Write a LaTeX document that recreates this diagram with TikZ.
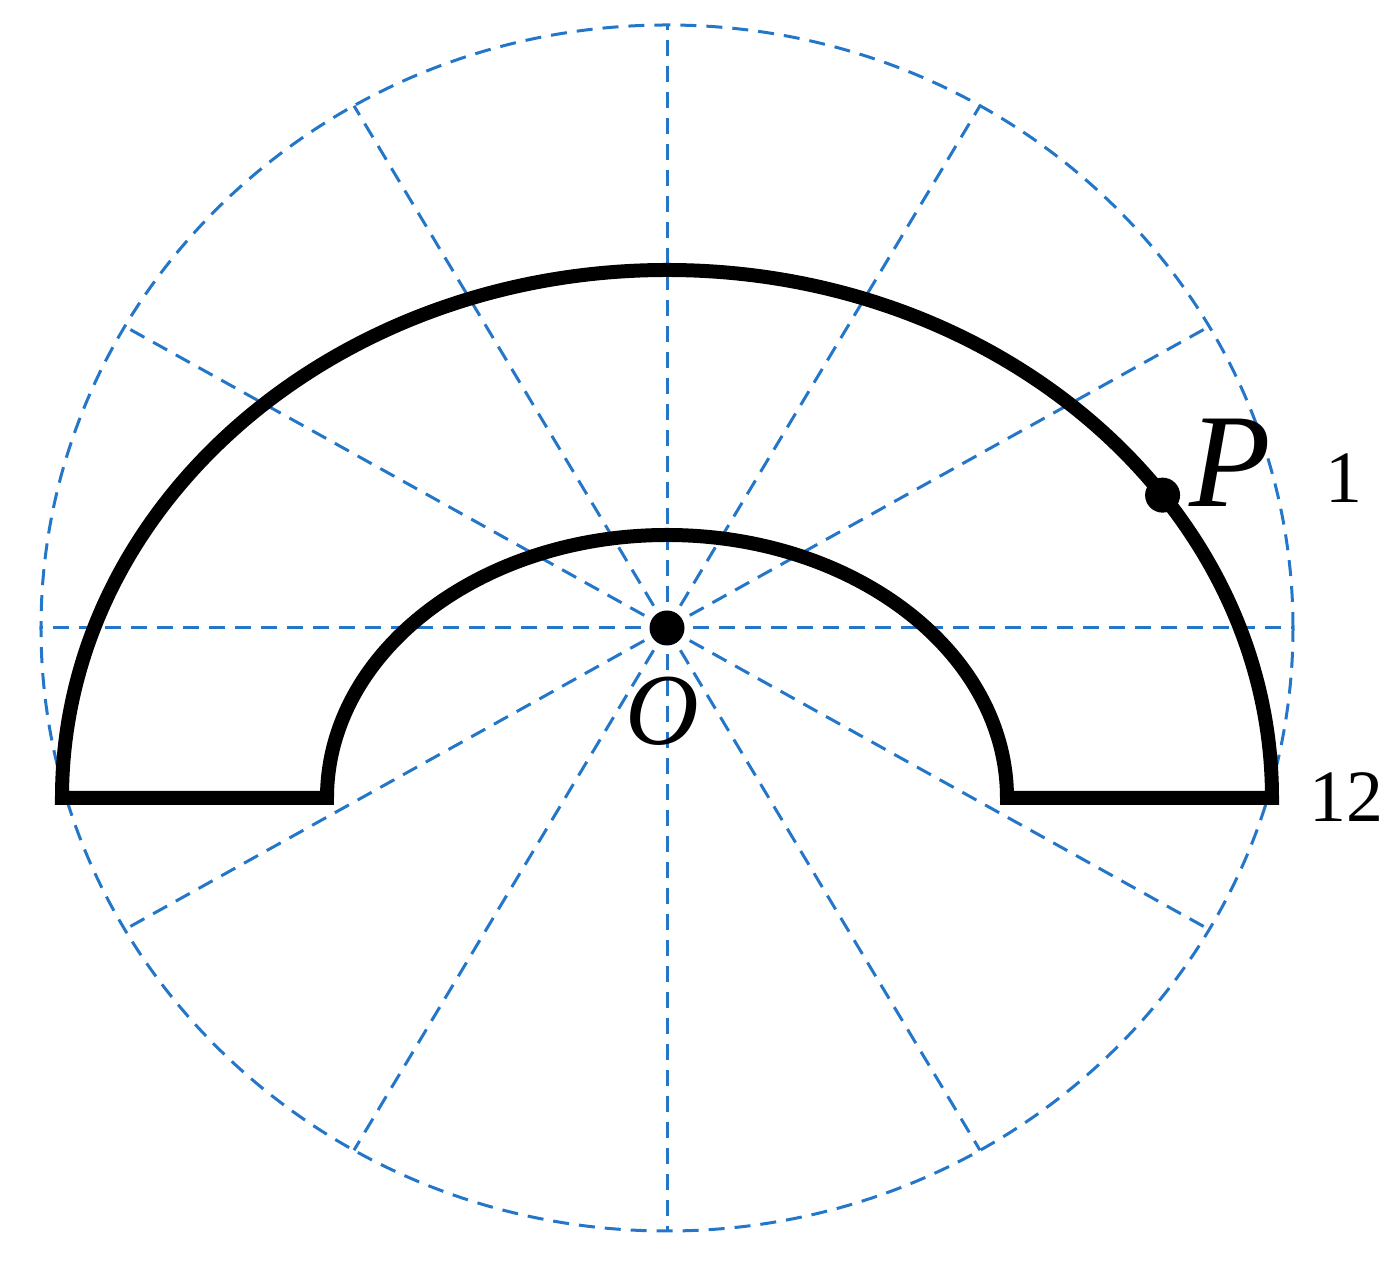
\documentclass[tikz,border=0pt]{standalone}
\usepackage{fontspec}
\setmainfont{Liberation Serif}[ItalicFont={Liberation Serif Italic}]
\definecolor{guideblue}{RGB}{36,118,200}

\begin{document}
\begin{tikzpicture}[
  guide/.style={guideblue,line width=0.03cm,dash pattern=on 0.16cm off 0.1cm},
  dot/.style={circle,fill=black,inner sep=0pt,minimum size=0.35cm},
  lbl/.style={anchor=base,inner sep=0pt}]
\useasboundingbox (-6.67,-6.40) rectangle (7.33,6.28);

% dashed guide ellipse with spokes every 30 degrees
\draw[guide] (0,0) ellipse [x radius=6.26, y radius=6.03];
\foreach \a in {0,30,...,330}
  \draw[guide] (0,0) -- ({6.26*cos(\a)},{6.03*sin(\a)});

% half ring
\coordinate (C) at (0,-1.70);
\draw[line width=0.14cm,line join=miter] (-6.05,-1.70)
  arc [start angle=180, end angle=0, x radius=6.05, y radius=5.28]
  -- (3.40,-1.70)
  arc [start angle=0, end angle=180, x radius=3.40, y radius=2.63]
  -- cycle;

\node[dot] (O) at (0,0) {};
\node[dot] (P) at ([shift={(35:6.05 and 5.28)}]C) {};

\node[lbl,font=\fontsize{29}{34}\selectfont\itshape] (Olbl) at (-0.05,-1.17) {O};
\node[lbl,font=\fontsize{38}{44}\selectfont\itshape] (Plbl) at (5.63,1.21) {P};
\node[lbl,font=\fontsize{21}{25}\selectfont] (one) at (6.77,1.25) {1};
\node[lbl,font=\fontsize{21}{25}\selectfont] (twelve) at (6.79,-1.94) {12};
\end{tikzpicture}
\end{document}
